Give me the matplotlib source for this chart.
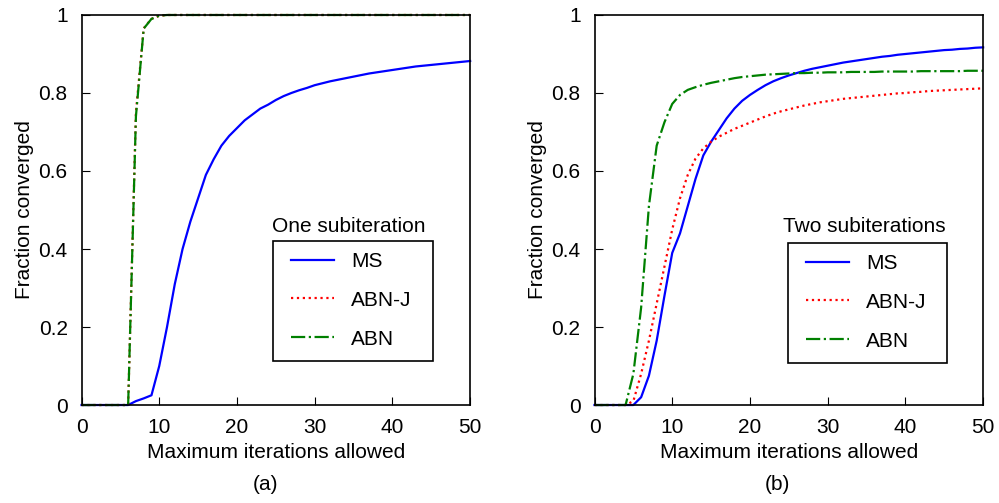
import numpy as np
import matplotlib.pyplot as plt
from matplotlib.patches import Rectangle

plt.rcParams['font.family'] = ['Liberation Sans', 'DejaVu Sans']
plt.rcParams['font.size'] = 15

iters = np.arange(0, 51)

# (a) one subiteration
ms_a = [0, 0, 0, 0, 0, 0, 0, 0.010, 0.017, 0.025, 0.10, 0.20, 0.31, 0.40, 0.47,
        0.53, 0.59, 0.63, 0.665, 0.69, 0.71, 0.73, 0.745, 0.76, 0.77, 0.782, 0.792,
        0.80, 0.807, 0.813, 0.82, 0.825, 0.830, 0.834, 0.838, 0.842, 0.846, 0.850,
        0.853, 0.856, 0.859, 0.862, 0.865, 0.868, 0.870, 0.872, 0.874, 0.876, 0.878,
        0.880, 0.882]
abnj_a = [0, 0, 0, 0, 0, 0, 0, 0.75, 0.966, 0.99, 0.998] + [1.0] * 40
abn_a = [0, 0, 0, 0, 0, 0, 0, 0.74, 0.965, 0.99, 0.998] + [1.0] * 40

# (b) two subiterations
ms_b = [0, 0, 0, 0, 0, 0, 0.02, 0.075, 0.165, 0.28, 0.39, 0.44, 0.51, 0.58, 0.64,
        0.675, 0.705, 0.735, 0.76, 0.78, 0.795, 0.808, 0.82, 0.83, 0.838, 0.845,
        0.851, 0.857, 0.862, 0.866, 0.870, 0.874, 0.878, 0.881, 0.884, 0.887, 0.890,
        0.893, 0.895, 0.898, 0.900, 0.902, 0.904, 0.906, 0.908, 0.910, 0.911, 0.913,
        0.914, 0.916, 0.917]
abnj_b = [0, 0, 0, 0, 0, 0.01, 0.08, 0.165, 0.26, 0.355, 0.45, 0.53, 0.59, 0.632, 0.658,
          0.675, 0.688, 0.698, 0.708, 0.716, 0.724, 0.732, 0.740, 0.747, 0.753, 0.758,
          0.763, 0.768, 0.772, 0.776, 0.779, 0.782, 0.785, 0.787, 0.789, 0.791, 0.793,
          0.795, 0.797, 0.799, 0.800, 0.802, 0.803, 0.805, 0.806, 0.807, 0.808, 0.809,
          0.810, 0.811, 0.812]
abn_b = [0, 0, 0, 0, 0.0, 0.08, 0.25, 0.51, 0.665, 0.725, 0.772, 0.795, 0.808, 0.815,
         0.821, 0.826, 0.830, 0.834, 0.838, 0.841, 0.843, 0.845, 0.847, 0.848, 0.849,
         0.850, 0.851, 0.851, 0.852, 0.852, 0.853, 0.853, 0.853, 0.854, 0.854, 0.854,
         0.854, 0.855, 0.855, 0.855, 0.855, 0.855, 0.856, 0.856, 0.856, 0.856, 0.856,
         0.856, 0.857, 0.857, 0.857]

labels = ['MS', 'ABN-J', 'ABN']
titles = ['One subiteration', 'Two subiterations']
captions = ['(a)', '(b)']

W, H = 999, 503
fig = plt.figure(figsize=(9.99, 5.03), dpi=100)
ax1 = fig.add_axes([0.0816, 0.1948, 0.389, 0.7754])
ax2 = fig.add_axes([0.5951, 0.1948, 0.389, 0.7754])

panels = [(ax1, ms_a, abnj_a, abn_a), (ax2, ms_b, abnj_b, abn_b)]
# legend placement in pixels: handle start x, first row top y, frame box
leg_xy = [(291, 252), (806, 254)]
frames = [(272.5, 241, 432.5, 360.5), (788, 243, 947, 363)]
title_xy = [(349, 226), (864, 227)]
cap_x = [265, 777]

for i, (ax, ms, abnj, abn) in enumerate(panels):
    ax.plot(iters, ms, color='#0000ff', lw=1.6, label=labels[0], clip_on=False)
    ax.plot(iters, abnj, color='#ff0000', ls=':', lw=1.6, label=labels[1], clip_on=False)
    ax.plot(iters, abn, color='#008000', ls='-.', lw=1.6, label=labels[2], clip_on=False)
    ax.set_xlim(0, 50)
    ax.set_ylim(0, 1)
    ax.set_xticks([0, 10, 20, 30, 40, 50])
    ax.set_yticks([0, 0.2, 0.4, 0.6, 0.8, 1])
    ax.set_yticklabels(['0', '0.2', '0.4', '0.6', '0.8', '1'])
    ax.tick_params(direction='in', length=6, width=0.8, labelsize=15)
    ax.tick_params(axis='x', pad=9)
    ax.tick_params(axis='y', pad=10)
    for s in ax.spines.values():
        s.set_linewidth(1.2)
    ax.set_xlabel('Maximum iterations allowed', fontsize=15, labelpad=5)
    ax.set_ylabel('Fraction converged', fontsize=15, labelpad=3)

    lx, ly = leg_xy[i]
    ax.legend(loc='upper left', bbox_to_anchor=(lx / W, 1 - ly / H),
              bbox_transform=fig.transFigure, fontsize=15, frameon=False,
              handlelength=2.05, handletextpad=0.85, labelspacing=0.95,
              borderpad=0, borderaxespad=0)
    x0, y0, x1, y1 = frames[i]
    fig.patches.append(Rectangle((x0 / W, 1 - y1 / H), (x1 - x0) / W, (y1 - y0) / H,
                                 transform=fig.transFigure, fill=False,
                                 edgecolor='black', linewidth=1.2))
    fig.text(title_xy[i][0] / W, 1 - title_xy[i][1] / H, titles[i],
             ha='center', va='center', fontsize=15)
    fig.text(cap_x[i] / W, 1 - 485 / H, captions[i], ha='center', va='center',
             fontsize=15)

fig.savefig('out.png', dpi=100)
